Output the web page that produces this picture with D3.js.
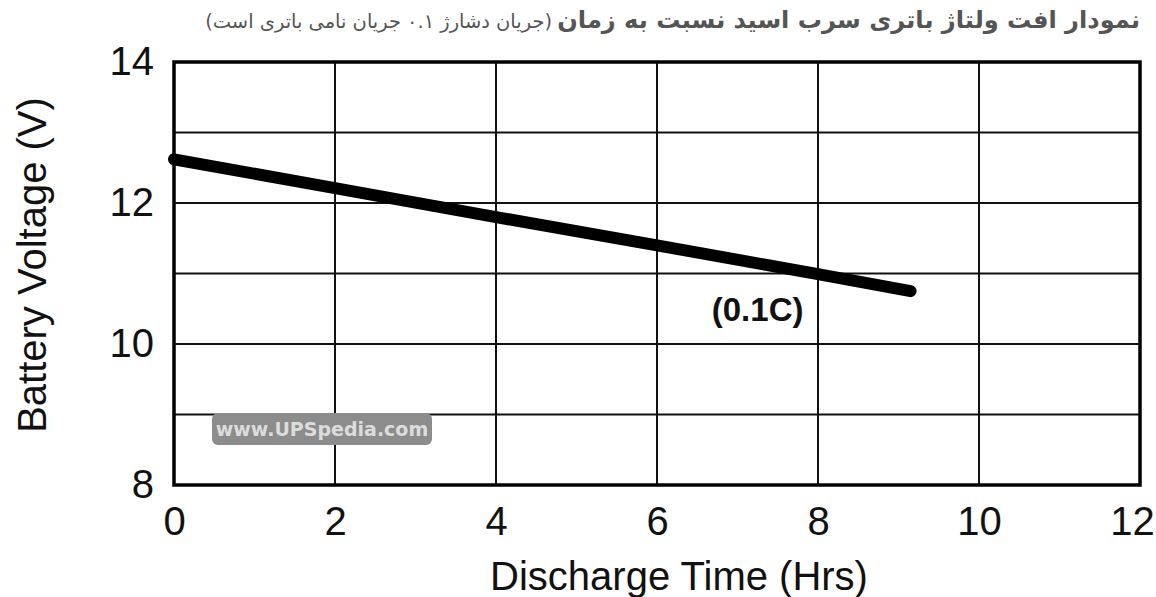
<!DOCTYPE html>
<html>
<head>
<meta charset="utf-8">
<script src="https://cdn.jsdelivr.net/npm/d3@7"></script>
<style>
  body { margin: 0; background: #fff; }
  svg { display: block; }
</style>
</head>
<body>
<svg id="chart" width="1156" height="597"></svg>
<script>
// datos (curva de descarga 0.1C)
const horas = [0, 2, 4, 6, 8, 9.15];
const voltaje = [12.62, 12.21, 11.8, 11.4, 10.99, 10.75];
const ticksX = [0, 2, 4, 6, 8, 10, 12];
const ticksY = [8, 10, 12, 14];
const gridY = [8, 9, 10, 11, 12, 13, 14];
const etiquetaCurva = "(0.1C)";
const tituloPrincipal = "نمودار افت ولتاژ باتری سرب اسید نسبت به زمان";
const tituloNota = "(جریان دشارژ ۰.۱ جریان نامی باتری است)";

const svg = d3.select("#chart");
const margin = {top: 62, right: 16, bottom: 112, left: 174};
const width = +svg.attr("width");
const height = +svg.attr("height");
const fuente = "'Liberation Sans', Arial, sans-serif";

const x = d3.scaleLinear().domain([0, 12]).range([margin.left, width - margin.right]);
const y = d3.scaleLinear().domain([8, 14]).range([height - margin.bottom, margin.top]);

// rejilla
svg.append("g")
  .selectAll("line")
  .data(ticksX)
  .enter()
  .append("line")
  .attr("x1", d => x(d)).attr("x2", d => x(d))
  .attr("y1", y(8)).attr("y2", y(14))
  .attr("stroke", "#111")
  .attr("stroke-width", 2);

svg.append("g")
  .selectAll("line")
  .data(gridY)
  .enter()
  .append("line")
  .attr("x1", x(0)).attr("x2", x(12))
  .attr("y1", d => y(d)).attr("y2", d => y(d))
  .attr("stroke", "#111")
  .attr("stroke-width", 2);

// marco
svg.append("rect")
  .attr("x", x(0)).attr("y", y(14))
  .attr("width", x(12) - x(0))
  .attr("height", y(8) - y(14))
  .attr("fill", "none")
  .attr("stroke", "#000")
  .attr("stroke-width", 3.5);

// ejes (solo etiquetas)
const ejeX = svg.append("g")
  .attr("transform", `translate(0,${y(8)})`)
  .call(d3.axisBottom(x).tickValues(ticksX).tickFormat(d3.format("d")).tickSize(0).tickPadding(22));
ejeX.select(".domain").remove();
ejeX.selectAll("text")
  .attr("font-family", fuente)
  .attr("font-size", 40)
  .attr("fill", "#111")
  .attr("dx", d => d === 12 ? -8 : 0);

const ejeY = svg.append("g")
  .attr("transform", `translate(${x(0)},0)`)
  .call(d3.axisLeft(y).tickValues(ticksY).tickFormat(d3.format("d")).tickSize(0).tickPadding(20));
ejeY.select(".domain").remove();
ejeY.selectAll("text")
  .attr("font-family", fuente)
  .attr("font-size", 40)
  .attr("fill", "#111");

// títulos de ejes
svg.append("text")
  .attr("x", 679)
  .attr("y", 590)
  .attr("text-anchor", "middle")
  .attr("font-family", fuente)
  .attr("font-size", 40)
  .attr("fill", "#111")
  .text("Discharge Time (Hrs)");

svg.append("text")
  .attr("transform", "translate(46,265) rotate(-90)")
  .attr("text-anchor", "middle")
  .attr("font-family", fuente)
  .attr("font-size", 40)
  .attr("fill", "#111")
  .text("Battery Voltage (V)");

// curva
const linea = d3.line()
  .x((d, i) => x(horas[i]))
  .y(d => y(d));

svg.append("path")
  .datum(voltaje)
  .attr("fill", "none")
  .attr("stroke", "#000")
  .attr("stroke-width", 12)
  .attr("stroke-linecap", "round")
  .attr("d", linea);

svg.append("text")
  .attr("x", x(7.25))
  .attr("y", y(10.33))
  .attr("text-anchor", "middle")
  .attr("font-family", fuente)
  .attr("font-weight", "bold")
  .attr("font-size", 33)
  .attr("fill", "#111")
  .text(etiquetaCurva);

// marca de agua
const marca = svg.append("g");
marca.append("rect")
  .attr("x", 212).attr("y", 413)
  .attr("width", 220).attr("height", 32)
  .attr("rx", 6)
  .attr("fill", "#8c8c8c");
marca.append("text")
  .attr("x", 322).attr("y", 436)
  .attr("text-anchor", "middle")
  .attr("font-family", "'DejaVu Sans', Verdana, sans-serif")
  .attr("font-weight", "bold")
  .attr("font-size", 19)
  .attr("fill", "#dcdcdc")
  .text("www.UPSpedia.com");

// título en persa, ajustado al ancho
function textoAjustado(txt, derecha, ancho, tamBase, peso) {
  const t = svg.append("text")
    .attr("x", 0).attr("y", 28)
    .attr("direction", "rtl")
    .attr("font-family", "'DejaVu Sans', 'Noto Sans', sans-serif")
    .attr("font-weight", peso)
    .attr("font-size", tamBase)
    .attr("fill", "#555")
    .text(txt);
  let bb = t.node().getBBox();
  t.attr("font-size", tamBase * ancho / bb.width);
  bb = t.node().getBBox();
  t.attr("x", derecha - (bb.x + bb.width));
  return t;
}
textoAjustado(tituloPrincipal, 1140, 583, 17, "bold");
textoAjustado(tituloNota, 552, 347, 13, "normal");
</script>
</body>
</html>
